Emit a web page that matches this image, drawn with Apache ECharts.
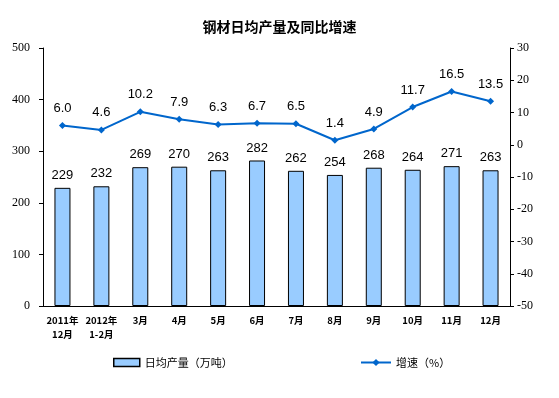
<!DOCTYPE html>
<html>
<head>
<meta charset="utf-8">
<script src="https://cdn.jsdelivr.net/npm/echarts@6/dist/echarts.min.js"></script>
<style>
  html, body { margin: 0; padding: 0; background: #fff; }
  #chart { width: 559px; height: 398px; }
</style>
</head>
<body>
<div id="chart"></div>
<script>
// 类目
let categories = ['2011年\n12月', '2012年\n1-2月', '3月', '4月', '5月', '6月', '7月', '8月', '9月', '10月', '11月', '12月'];
// 日均产量（万吨）
let outputData = [229, 232, 269, 270, 263, 282, 262, 254, 268, 264, 271, 263];
// 增速（%）
let growthData = [6.0, 4.6, 10.2, 7.9, 6.3, 6.7, 6.5, 1.4, 4.9, 11.7, 16.5, 13.5];
// 刻度
let leftTicks = [0, 100, 200, 300, 400, 500];
let rightTicks = [-50, -40, -30, -20, -10, 0, 10, 20, 30];

let chart = echarts.init(document.getElementById('chart'));

let option = {
    animation: false,
    title: {
        text: '钢材日均产量及同比增速',
        left: 'center',
        top: 15,
        textStyle: {
            fontFamily: 'Noto Sans CJK SC',
            fontSize: 14,
            fontWeight: 'bold',
            color: '#000'
        }
    },
    legend: [
        {
            data: [{ name: '日均产量（万吨）', icon: 'rect' }],
            left: 108,
            top: 352,
            itemWidth: 26,
            itemHeight: 8,
            itemStyle: { borderColor: '#000', borderWidth: 1.5 },
            textStyle: { fontFamily: 'Noto Sans CJK SC', fontSize: 11, color: '#000' }
        },
        {
            data: ['增速（%）'],
            left: 355,
            top: 352,
            itemWidth: 30,
            itemHeight: 9,
            textStyle: { fontFamily: 'Noto Sans CJK SC', fontSize: 11, color: '#000' }
        }
    ],
    grid: {
        left: 43,
        right: 49,
        top: 48,
        bottom: 92
    },
    xAxis: {
        type: 'category',
        data: categories,
        axisLine: { lineStyle: { color: '#000', width: 1 } },
        axisTick: { inside: true, length: 4, lineStyle: { color: '#000' } },
        axisLabel: {
            interval: 0,
            margin: 7,
            fontFamily: 'Noto Sans CJK SC',
            fontSize: 9.5,
            fontWeight: 'bold',
            lineHeight: 14,
            color: '#000'
        }
    },
    yAxis: [
        {
            type: 'value',
            min: leftTicks[0],
            max: leftTicks[leftTicks.length - 1],
            interval: 100,
            axisLine: { show: true, lineStyle: { color: '#000' } },
            axisTick: { show: true, length: 4, lineStyle: { color: '#000' } },
            splitLine: { show: false },
            axisLabel: { fontFamily: 'Liberation Serif', fontSize: 12, color: '#000', margin: 13 }
        },
        {
            type: 'value',
            min: rightTicks[0],
            max: rightTicks[rightTicks.length - 1],
            interval: 10,
            axisLine: { show: true, lineStyle: { color: '#000' } },
            axisTick: { show: true, length: 4, lineStyle: { color: '#000' } },
            splitLine: { show: false },
            axisLabel: { fontFamily: 'Liberation Serif', fontSize: 12, color: '#000', margin: 7 }
        }
    ],
    series: [
        {
            name: '日均产量（万吨）',
            type: 'bar',
            yAxisIndex: 0,
            data: outputData,
            barWidth: 16,
            itemStyle: {
                color: '#99CCFF',
                borderColor: '#000',
                borderWidth: 1
            },
            label: {
                show: true,
                position: 'top',
                distance: 6,
                fontFamily: 'Liberation Sans',
                fontSize: 13,
                color: '#000'
            }
        },
        {
            name: '增速（%）',
            type: 'line',
            yAxisIndex: 1,
            data: growthData,
            symbol: 'diamond',
            symbolSize: 7,
            lineStyle: { color: '#0066CC', width: 2 },
            itemStyle: { color: '#0066CC' },
            label: {
                show: true,
                position: 'top',
                distance: 7,
                fontFamily: 'Liberation Sans',
                fontSize: 13,
                color: '#000',
                formatter: function (p) {
                    return p.value.toFixed(1);
                }
            }
        }
    ]
};

chart.setOption(option);
</script>
</body>
</html>
